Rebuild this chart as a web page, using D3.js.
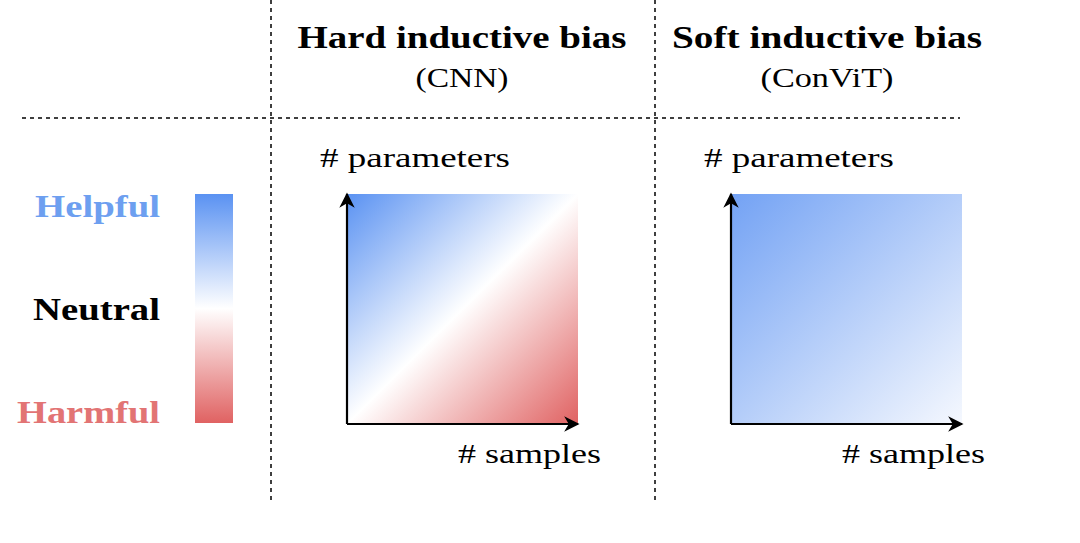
<!DOCTYPE html>
<html><head><meta charset="utf-8">
<script src="https://cdn.jsdelivr.net/npm/d3@7"></script>
<style>body{margin:0;background:#fff}text{font-family:"Liberation Serif","DejaVu Serif",serif}</style>
</head><body><svg id="c" width="1080" height="543"></svg>
<script>
const columns = ["Hard inductive bias","Soft inductive bias"];
const subtitles = ["(CNN)","(ConViT)"];
const legendLabels = ["Helpful","Neutral","Harmful"];
const legendValues = [1,0,-1];
const hardStops = [1,0,-1];      // top-left, diagonal, bottom-right
const softStops = [0.85,0.06];   // top-left, bottom-right
const color = d3.scaleLinear().domain([-1,0,1]).range(["#e06262","#ffffff","#5a92f2"]);
const textColor = d3.scaleOrdinal().domain(legendLabels).range(["#6d9ff0","#000","#e27474"]);

const svg = d3.select("#c");
const defs = svg.append("defs");
defs.append("marker").attr("id","arr").attr("viewBox","0 0 10 10").attr("refX",9).attr("refY",5)
 .attr("markerWidth",7).attr("markerHeight",7).attr("orient","auto-start-reverse")
 .append("path").attr("d","M0,0L10,5L0,10L3,5Z").attr("fill","#000");

function grad(id,stops,x1,y1,x2,y2){
  const g=defs.append("linearGradient").attr("id",id).attr("x1",x1).attr("y1",y1).attr("x2",x2).attr("y2",y2);
  const off=d3.scaleLinear().domain([0,stops.length-1]).range([0,1]);
  stops.forEach((v,i)=>g.append("stop").attr("offset",off(i)).attr("stop-color",color(v)));
}
grad("lg",legendValues,0,0,0,1);
grad("g0",hardStops,0,0,1,1);
grad("g1",softStops,0,0,1,1);

function line(x1,y1,x2,y2){svg.append("line").attr("x1",x1).attr("y1",y1).attr("x2",x2).attr("y2",y2)
  .attr("stroke","#000").attr("stroke-width",1.5).attr("stroke-dasharray","4,4");}
line(271,0,271,500);line(655,0,655,500);line(22,118,960,118);

function txt(x,y,anchor,size,len,t){
  return svg.append("text").attr("x",x).attr("y",y).attr("text-anchor",anchor).attr("font-size",size)
   .attr("textLength",len).attr("lengthAdjust","spacingAndGlyphs").text(t);
}
const colX = d3.scalePoint().domain(columns).range([462,827]);
const titleLen=[329,310], subLen=[93,133];
columns.forEach((c,i)=>{
  txt(colX(c),48,"middle",31,titleLen[i],c).attr("font-weight","bold");
  txt(colX(c),87,"middle",28,subLen[i],subtitles[i]);
});

// legend
svg.append("rect").attr("x",195).attr("y",194).attr("width",38).attr("height",229).attr("fill","url(#lg)");
const ly = d3.scalePoint().domain(legendLabels).range([217,423]);
const legLen=[125,127,143];
legendLabels.forEach((l,i)=>txt(160,ly(l),"end",31,legLen[i],l).attr("font-weight","bold").attr("fill",textColor(l)));

// panels
const panelX=[347,731];
panelX.forEach((px,i)=>{
  const x=d3.scaleLinear().domain([0,1]).range([px,px+231]);
  const y=d3.scaleLinear().domain([0,1]).range([424,194]);
  svg.append("rect").attr("x",x(0)).attr("y",y(1)).attr("width",x(1)-x(0)).attr("height",y(0)-y(1)).attr("fill",`url(#g${i})`);
  svg.append("line").attr("x1",x(0)).attr("y1",y(0)).attr("x2",x(0)).attr("y2",y(1)).attr("stroke","#000").attr("stroke-width",2.2).attr("marker-end","url(#arr)");
  svg.append("line").attr("x1",x(0)).attr("y1",y(0)).attr("x2",x(1)).attr("y2",y(0)).attr("stroke","#000").attr("stroke-width",2.2).attr("marker-end","url(#arr)");
  txt(x(0)-27,167,"start",28,190,"# parameters");
  txt(x(1)+23,463,"end",28,143,"# samples");
});
</script></body></html>
